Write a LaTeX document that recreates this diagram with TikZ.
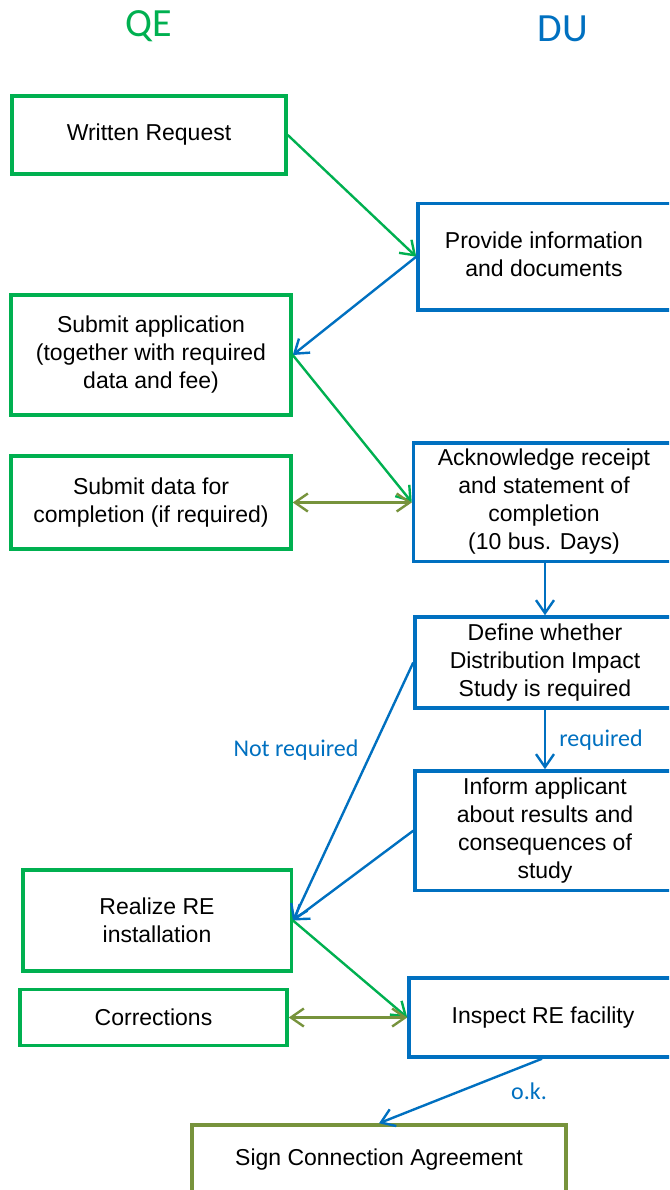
\documentclass[tikz,border=0pt]{standalone}
\usepackage{fontspec}
\setmainfont{Liberation Sans}
\newfontfamily\calib{Carlito}
\usetikzlibrary{arrows.meta}
\definecolor{qgreen}{HTML}{00B050}
\definecolor{dblue}{HTML}{0070C0}
\definecolor{olive}{HTML}{77933C}
% text block shifted left by half of #2 inside a wider box
\newcommand{\lshifted}[2]{\begin{tabular}{@{}c@{}}#1\end{tabular}\hspace*{#2}}
\begin{document}
\begin{tikzpicture}[x=1pt,y=-1pt,
  box/.style={draw=#1, line width=3.5pt, align=center, inner sep=0pt,
    font=\fontsize{23}{28}\selectfont, text=black},
  conn/.style={draw=#1, line width=2.4pt,
    -{Straight Barb[length=13pt,width=18pt,line width=2.4pt]}},
  dconn/.style={draw=#1, line width=2.4pt,
    {Straight Barb[length=13pt,width=18pt,line width=2.4pt]}-{Straight Barb[length=13pt,width=18pt,line width=2.4pt]}},
  head/.style={font=\calib\fontsize{40}{44}\selectfont, text=#1},
  lab/.style={font=\calib\fontsize{24}{28}\selectfont, text=dblue}]
\useasboundingbox (0,0) rectangle (669,1190);
\clip (0,0) rectangle (669,1190);
% column guides for the vertical connectors
\coordinate (colx) at (545,0);
\coordinate (colxb) at (542,0);
% headers
\node[head=qgreen] (qe) at (149,26) {QE};
\node[head=dblue] (du) at (563,29) {DU};
% QE boxes
\node[box=qgreen, minimum width=274pt, minimum height=78pt] (wr) at (149,135) {Written Request};
\node[box=qgreen, minimum width=280pt, minimum height=120pt] (subapp) at (151,355) {Submit application\\(together with required\\data and fee)};
\node[box=qgreen, minimum width=280pt, minimum height=93pt] (subdata) at (151,502.5) {Submit data for\\completion (if required)};
\node[box=qgreen, minimum width=268.5pt, minimum height=101pt] (real) at (157,920.5) {Realize RE\\installation};
\node[box=qgreen, minimum width=267pt, minimum height=56pt] (corr) at (153.5,1017.5) {Corrections};
% DU boxes (their right sides run out of the picture)
\node[box=dblue, minimum width=282pt, minimum height=106.5pt] (prov) at (559,256.7) {\lshifted{Provide information\\and documents}{30pt}};
\node[box=dblue, minimum width=286.5pt, minimum height=118.5pt] (ack) at (556.75,502.2) {\lshifted{Acknowledge receipt\\and statement of\\completion\\(10 bus. Days)}{25.5pt}};
\node[box=dblue, minimum width=285pt, minimum height=91pt] (def) at (557.5,662.5) {\lshifted{Define whether\\Distribution Impact\\Study is required}{25pt}};
\node[box=dblue, minimum width=285pt, minimum height=119.5pt] (inf) at (557.5,830.7) {\lshifted{Inform applicant\\about results and\\consequences of\\study}{25pt}};
\node[box=dblue, minimum width=291pt, minimum height=79pt] (insp) at (554.5,1017.5) {\lshifted{Inspect RE facility}{23pt}};
% final box
\node[box=olive, minimum width=374pt, minimum height=70pt] (sign) at (379,1160) {Sign Connection Agreement};
% connectors
\draw[conn=qgreen] (wr.east) -- (prov.west);
\draw[conn=dblue] (prov.west) -- (subapp.east);
\draw[conn=qgreen] (subapp.east) -- (ack.west);
\draw[dconn=olive] (subdata.east) -- (subdata.east -| ack.west);
\draw[conn=dblue] (ack.south -| colx) -- (def.north -| colx);
\draw[conn=dblue] (def.south -| colx) -- (inf.north -| colx);
\draw[conn=dblue] (def.west) -- (real.east);
\draw[conn=dblue] (inf.west) -- (real.east);
\draw[conn=qgreen] (real.east) -- (insp.west);
\draw[dconn=olive] (corr.east) -- (insp.west);
\draw[conn=dblue] (insp.south -| colxb) -- (sign.north);
% labels
\node[lab] (lreq) at (601,740) {required};
\node[lab] (lnr) at (296,750) {Not required};
\node[lab] (lok) at (529,1091) {o.k.};
\end{tikzpicture}
\end{document}
